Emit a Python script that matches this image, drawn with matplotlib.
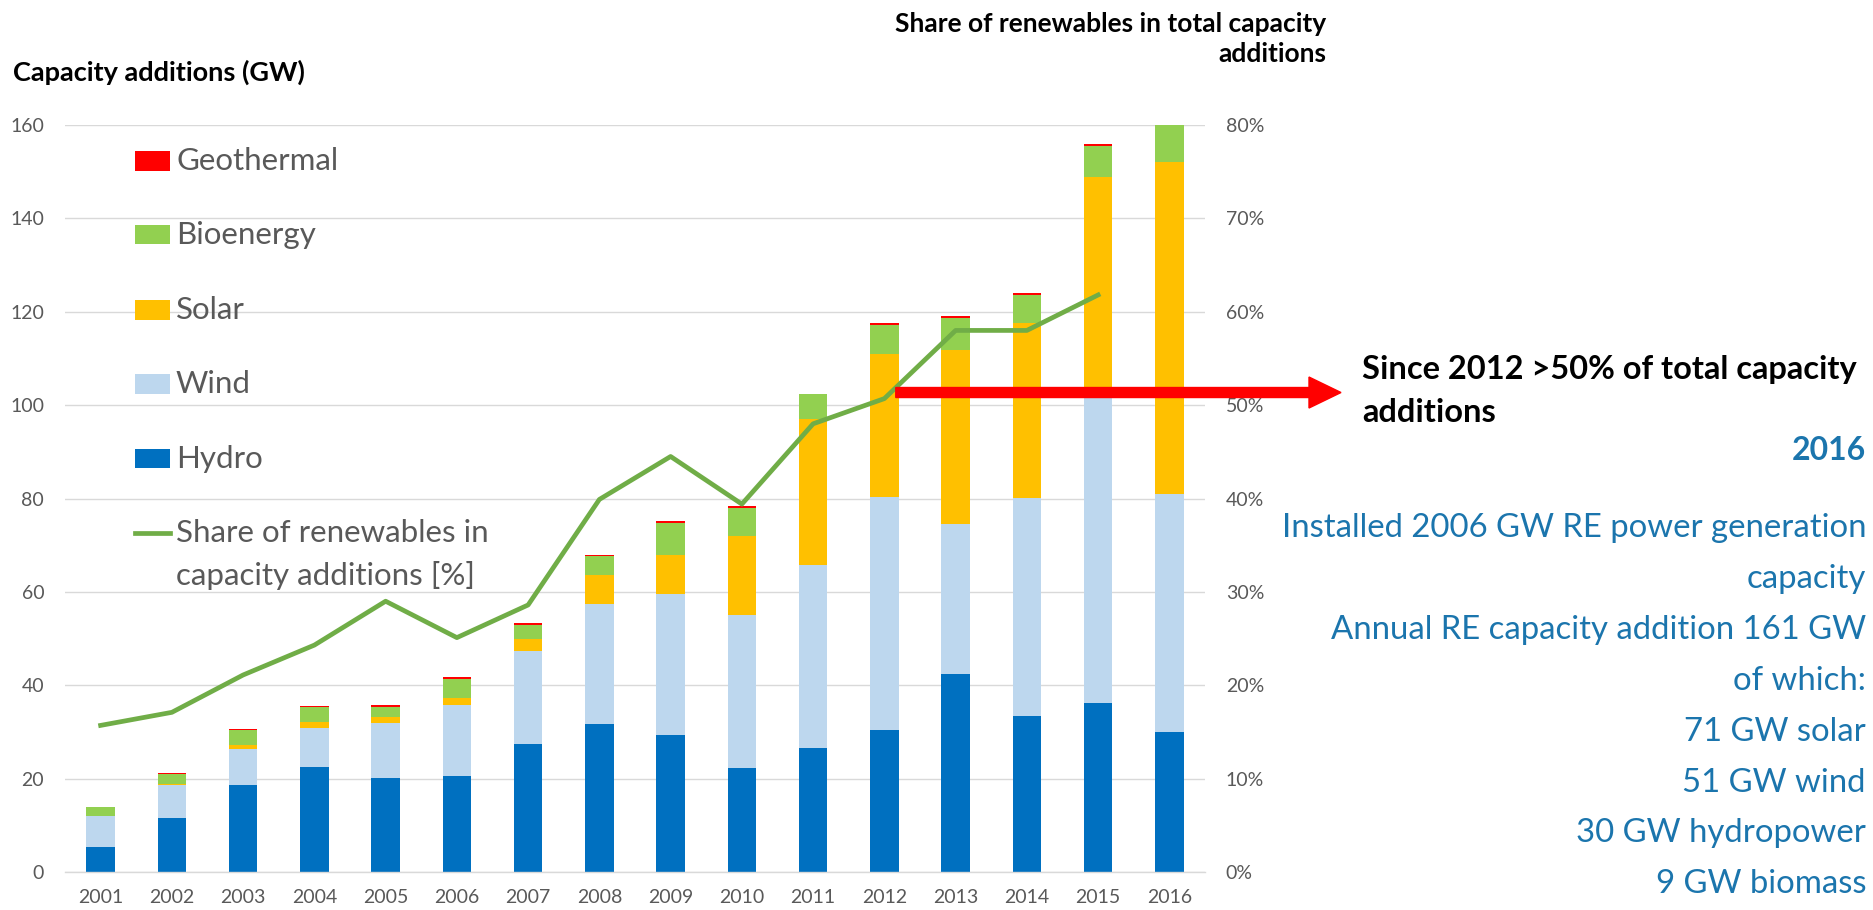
import numpy as np
import matplotlib
matplotlib.use('agg')
from matplotlib import pyplot as plt
from matplotlib.patches import Rectangle, FancyArrow
from matplotlib.lines import Line2D
from matplotlib.transforms import IdentityTransform

plt.rcParams['font.family'] = ['Lato', 'DejaVu Sans']

# ====================================
# Data (GW of new capacity per year)
# ====================================
years = ['2001', '2002', '2003', '2004', '2005', '2006', '2007', '2008',
         '2009', '2010', '2011', '2012', '2013', '2014', '2015', '2016']
hydro = [5.4, 11.6, 18.6, 22.5, 20.2, 20.5, 27.5, 31.6,
         29.3, 22.3, 26.5, 30.4, 42.5, 33.5, 36.2, 30]
wind = [6.5, 7.0, 7.7, 8.4, 11.7, 15.2, 19.8, 25.9,
        30.3, 32.8, 39.3, 49.9, 32.0, 46.6, 65.3, 51]
solar = [0.2, 0.3, 0.8, 1.2, 1.3, 1.6, 2.6, 6.1,
         8.3, 16.9, 31.2, 30.6, 37.4, 37.5, 47.4, 71]
bioenergy = [1.9, 2.0, 3.3, 3.3, 2.2, 4.1, 3.1, 4.1,
             6.9, 6.0, 5.4, 6.3, 6.8, 6.0, 6.5, 9]
geothermal = [0.0, 0.2, 0.2, 0.05, 0.3, 0.3, 0.3, 0.2,
              0.3, 0.3, 0.0, 0.4, 0.4, 0.5, 0.6, 0.0]
# share of renewables in total capacity additions, % (no value for 2016)
share = [15.7, 17.1, 21.1, 24.3, 29.0, 25.1, 28.6, 39.9,
         44.5, 39.4, 48.0, 50.7, 58.0, 58.0, 61.8]

series = [('Hydro', hydro, '#0070C0'),
          ('Wind', wind, '#BDD7EE'),
          ('Solar', solar, '#FFC000'),
          ('Bioenergy', bioenergy, '#92D050'),
          ('Geothermal', geothermal, '#FF0000')]
line_color = '#70AD47'
share_label = ['Share of renewables in', 'capacity additions [%]']

W, H = 1873, 910
GREY = '#595959'
BLUE = '#1b75ad'
GRID = '#D9D9D9'

fig = plt.figure(figsize=(W / 100, H / 100), dpi=100)
ax = fig.add_axes([65 / W, 1 - 872 / H, (1205 - 65) / W, (872 - 125) / H])


def px(x, y):
    """pixel position (from top-left) -> figure fraction"""
    return x / W, 1 - y / H


# stacked bars
x = np.arange(len(years))
bottom = np.zeros(len(years))
for name, vals, col in series:
    vals = np.array(vals, dtype=float)
    ax.bar(x, vals, 0.4, bottom=bottom, color=col, zorder=2)
    bottom += vals

ax.set_xlim(-0.5, len(years) - 0.5)
ax.set_ylim(0, 160)
ax.set_yticks(range(0, 161, 20))
ax.set_xticks(x)
ax.set_xticklabels(years)
ax.grid(axis='y', color=GRID, lw=1.0, zorder=0)
ax.set_axisbelow(True)
for s in ['top', 'left', 'right']:
    ax.spines[s].set_visible(False)
ax.spines['bottom'].set_color(GRID)
ax.spines['bottom'].set_linewidth(1.0)
ax.tick_params(axis='both', length=0, labelsize=14, labelcolor=GREY)
ax.tick_params(axis='y', pad=15)
ax.tick_params(axis='x', pad=12)

# share line on the right axis
ax2 = ax.twinx()
ax2.plot(x[:len(share)], share, color=line_color, lw=3.4, zorder=3)
ax2.set_ylim(0, 80)
ax2.set_yticks(range(0, 81, 10))
ax2.set_yticklabels(['{}%'.format(v) for v in range(0, 81, 10)])
ax2.tick_params(axis='y', length=0, labelsize=14, labelcolor=GREY, pad=15)
for s in ax2.spines.values():
    s.set_visible(False)

# legend (drawn by hand so the line sits on the first label row)
leg_x0, leg_x1 = 135, 170
row_y = [161, 235, 310, 384, 459]
for (name, vals, col), yy in zip(series[::-1], row_y):
    fx, fy = px(leg_x0, yy + 9.5)
    fig.add_artist(Rectangle((fx, fy), (leg_x1 - leg_x0) / W, 19 / H,
                             facecolor=col, edgecolor='none',
                             transform=fig.transFigure))
    fig.text(*px(176, yy), name, fontsize=22.5, color=GREY, va='center', ha='left')
fig.add_artist(Line2D([leg_x0 / W, leg_x1 / W], [1 - 533 / H] * 2, color=line_color,
                      lw=3.4, transform=fig.transFigure))
fig.text(*px(176, 533), share_label[0], fontsize=22.5, color=GREY, va='center')
fig.text(*px(176, 575), share_label[1], fontsize=22.5, color=GREY, va='center')

# axis titles
fig.text(*px(13, 72), 'Capacity additions (GW)', fontsize=19.5, fontweight='bold',
         va='center', ha='left')
fig.text(*px(1326, 24), 'Share of renewables in total capacity',
         fontsize=19, fontweight='bold', va='center', ha='right')
fig.text(*px(1326, 54), 'additions', fontsize=19, fontweight='bold',
         va='center', ha='right')

# red arrow from 2012 onwards
fig.canvas.draw()
sx, sy = ax.transData.transform((11.16, 102.7))
fig.add_artist(FancyArrow(sx, sy, 1341 - sx, 0, width=10, head_width=31,
                          head_length=32, length_includes_head=True,
                          color='#FF0000', transform=IdentityTransform(), zorder=5))

fig.text(*px(1362, 370), 'Since 2012 >50% of total capacity', fontsize=23.5,
         fontweight='bold', va='center', ha='left')
fig.text(*px(1362, 413), 'additions', fontsize=23.5, fontweight='bold',
         va='center', ha='left')

# 2016 summary
fig.text(*px(1866, 450), '2016', fontsize=23, fontweight='bold', color=BLUE,
         va='center', ha='right')
summary = ['Installed 2006 GW RE power generation', 'capacity',
           'Annual RE capacity addition 161 GW', 'of which:',
           '71 GW solar', '51 GW wind', '30 GW hydropower', '9 GW biomass']
for i, line in enumerate(summary):
    fig.text(*px(1866, 528 + i * 50.9), line, fontsize=23.7, color=BLUE,
             va='center', ha='right')

plt.savefig('out.png', dpi=100)
